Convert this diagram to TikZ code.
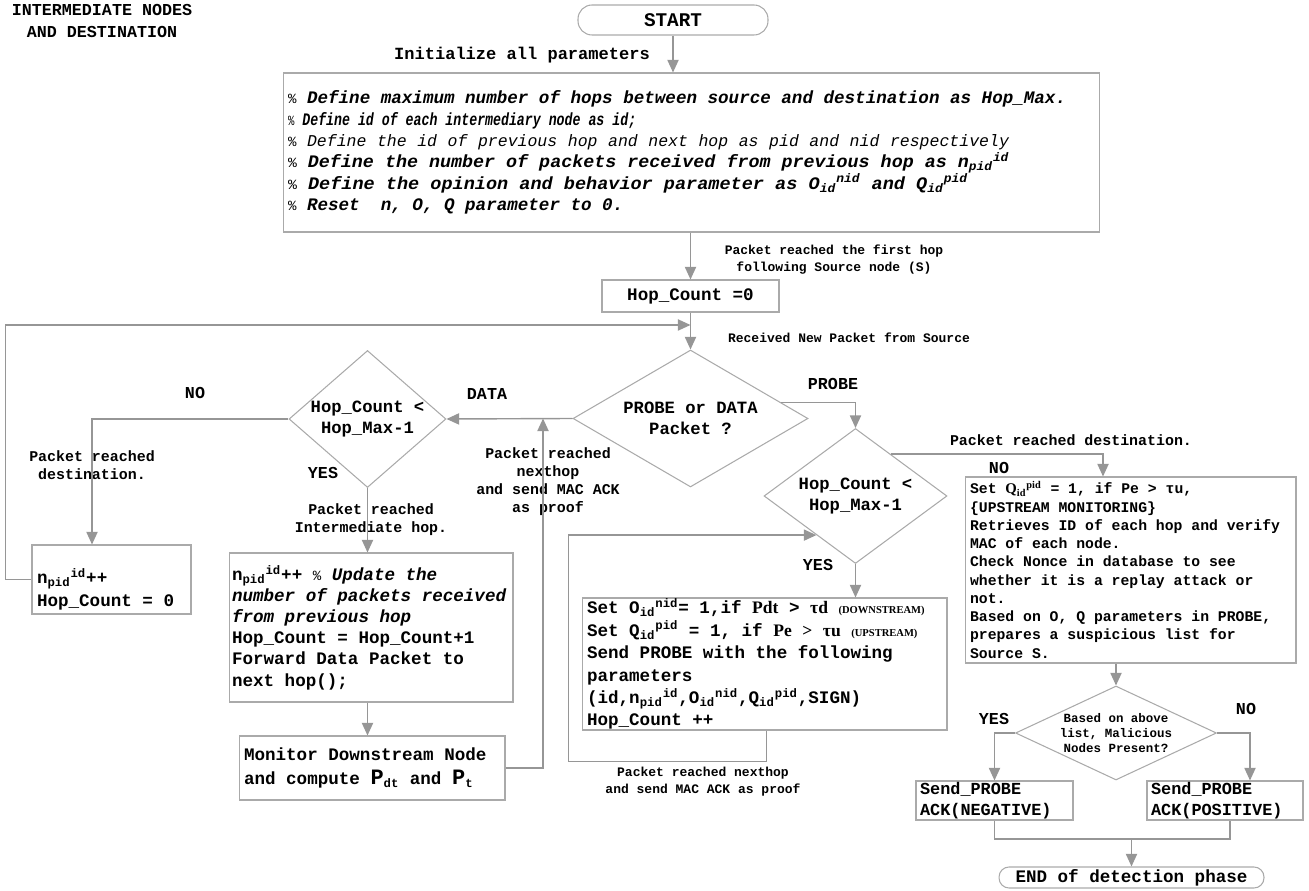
\documentclass[tikz,border=0pt]{standalone}
\usepackage{fontspec}
\usepackage{graphicx}
\setmainfont{Liberation Mono}
\newfontfamily\timesfont{Liberation Serif}
\usetikzlibrary{shapes.geometric,arrows.meta}

\definecolor{linegray}{RGB}{150,150,150}
\definecolor{boxgray}{RGB}{170,170,170}

\newcommand{\subsup}[3]{#1\textsubscript{#2}\textsuperscript{#3}}
\newcommand{\pcsign}{{\mdseries\upshape\fontsize{8}{8}\selectfont\%}}
\newcommand{\minorcaps}[1]{{\timesfont\fontsize{6}{6}\selectfont(#1)}}
\newcommand{\widthfit}[2]{\scalebox{#1}[1]{#2}}

\tikzset{
  flow/.style={draw=linegray, line width=0.8pt, -{Triangle[length=7.2pt,width=6.4pt]}},
  link/.style={draw=linegray, line width=0.8pt},
  procbox/.style={draw=boxgray, line width=0.6pt, rectangle, align=left,
    inner xsep=0.1cm, inner ysep=0pt, font=\fontsize{10}{12}\selectfont\bfseries,
    execute at begin node={\spaceskip=0.6em\xspaceskip=0.6em\relax}},
  decision/.style={draw=boxgray, line width=0.6pt, diamond, align=center,
    inner sep=0pt, font=\fontsize{9.8}{12}\selectfont\bfseries},
  terminal/.style={draw=boxgray, line width=0.6pt, rectangle, rounded corners=0.28cm,
    inner sep=0pt, font=\fontsize{10}{12}\selectfont\bfseries},
  note/.style={align=center, inner sep=0pt, font=\fontsize{8.5}{10.3}\selectfont\bfseries},
  smallnote/.style={align=center, inner sep=0pt, font=\fontsize{7.4}{9.8}\selectfont\bfseries},
  answer/.style={inner sep=0pt, font=\fontsize{9.5}{11}\selectfont\bfseries},
}

\begin{document}
\begin{tikzpicture}[x=0.02cm, y=-0.02cm]
  \useasboundingbox (0,0) rectangle (1309,891);

  \node[answer, align=center, font=\fontsize{9.5}{12}\selectfont\bfseries] (title) at (102,21) {INTERMEDIATE NODES\\AND DESTINATION};
  \node[terminal, minimum width=3.8cm, minimum height=0.6cm, font=\fontsize{11}{13}\selectfont\bfseries] (start) at (673,20) {START};

  \node[procbox, minimum width=16.34cm, minimum height=3.18cm, text width=16.14cm,
    font=\fontsize{10}{12.2}\selectfont\bfseries\itshape] (init) at (691.5,152.5) {\pcsign{} Define maximum number of hops between source and destination as Hop\_Max.\\
    \widthfit{0.754}{\pcsign{} Define id of each intermediary node as id;}\\
    {\mdseries\fontsize{9.4}{12.2}\selectfont\pcsign{} Define the id of previous hop and next hop as pid and nid respectively}\\
    \widthfit{1.045}{\pcsign{} Define the number of packets received from previous hop as \subsup{n}{pid}{id}}\\
    \widthfit{1.055}{\pcsign{} Define the opinion and behavior parameter as \subsup{O}{id}{nid} and \subsup{Q}{id}{pid}}\\
    \pcsign{} Reset~~n, O, Q parameter to 0.};

  \node[procbox, align=center, minimum width=3.54cm, minimum height=0.64cm] (hop0) at (690.5,296) {Hop\_Count =0};

  \node[decision, aspect=1.715, minimum width=4.7cm, minimum height=2.74cm] (pd) at (690.5,418.5) {PROBE or DATA\\Packet ?};
  \node[decision, aspect=1.146, minimum width=3.14cm, minimum height=2.74cm] (hc1) at (367.5,419) {Hop\_Count <\\Hop\_Max-1};
  \node[decision, aspect=1.356, minimum width=3.66cm, minimum height=2.7cm] (hc2) at (855.5,496) {Hop\_Count <\\Hop\_Max-1};

  \node[procbox, minimum width=3.14cm, minimum height=1.38cm, text width=2.98cm,
    font=\fontsize{10}{13}\selectfont\bfseries] (nbox) at (111.5,579.5) {\rule{0pt}{20pt}\subsup{n}{pid}{id}++\\Hop\_Count = 0};

  \node[procbox, minimum width=5.68cm, minimum height=2.98cm, text width=5.56cm, inner xsep=0.06cm] (dbox) at (371,627.5) {\subsup{n}{pid}{id}++ \pcsign{} \textit{Update the}\\
    \textit{number of packets received}\\
    \textit{from previous hop}\\
    Hop\_Count = Hop\_Count+1\\
    Forward Data Packet to\\
    next hop();};

  \node[procbox, minimum width=5.32cm, minimum height=1.28cm, text width=5.12cm,
    font=\fontsize{10}{13.6}\selectfont\bfseries] (mon) at (372,768) {Monitor Downstream Node\\
    and compute {\fontsize{12.5}{13.6}\selectfont P}\textsubscript{dt} and {\fontsize{12.5}{13.6}\selectfont P}\textsubscript{t}};

  \node[procbox, minimum width=7.3cm, minimum height=2.64cm, text width=7.1cm,
    font=\fontsize{10}{12.75}\selectfont\bfseries] (pbox) at (764.5,664) {Set \subsup{O}{id}{nid}= 1,if {\timesfont Pdt} > {\timesfont τd} \minorcaps{DOWNSTREAM}\\
    Set \subsup{Q}{id}{pid} = 1, if {\timesfont Pe > τu} \minorcaps{UPSTREAM}\\
    Send PROBE with the following\\
    parameters\\
    (id,\subsup{n}{pid}{id},\subsup{O}{id}{nid},\subsup{Q}{id}{pid},SIGN)\\
    Hop\_Count ++};

  \node[procbox, minimum width=6.62cm, minimum height=3.72cm, text width=6.42cm,
    font=\fontsize{8.4}{10.4}\selectfont\bfseries] (dest) at (1130.5,570) {Set {\timesfont\subsup{Q}{id}{pid}} = 1, if Pe > τu,\\
    \{UPSTREAM MONITORING\}\\
    Retrieves ID of each hop and verify\\
    MAC of each node.\\
    Check Nonce in database to see\\
    whether it is a replay attack or\\
    not.\\
    Based on O, Q parameters in PROBE,\\
    prepares a suspicious list for\\
    Source S.};

  \node[decision, aspect=2.14, minimum width=4.02cm, minimum height=1.88cm,
    font=\fontsize{7.1}{8.5}\selectfont\bfseries] (d3) at (1116,733) {Based on above\\list, Malicious\\Nodes Present?};

  \node[procbox, minimum width=3.14cm, minimum height=0.78cm, text width=2.98cm, inner xsep=0.08cm,
    font=\fontsize{9.6}{12}\selectfont\bfseries] (negb) at (994.5,800.5) {Send\_PROBE\\ACK(NEGATIVE)};
  \node[procbox, minimum width=3.12cm, minimum height=0.78cm, text width=2.96cm, inner xsep=0.08cm,
    font=\fontsize{9.6}{12}\selectfont\bfseries] (posb) at (1225,800.5) {Send\_PROBE\\ACK(POSITIVE)};

  \node[terminal, minimum width=5.3cm, minimum height=0.42cm, rounded corners=0.2cm] (endn) at (1131.5,877.5) {END of detection phase};

  \node[answer, font=\fontsize{9.7}{11}\selectfont\bfseries] (initlbl) at (522,55) {Initialize all parameters};
  \node[smallnote] (firsthop) at (834,259.5) {Packet reached the first hop\\following Source node (S)};
  \node[smallnote] (newpkt) at (849,338) {Received New Packet from Source};
  \node[answer] (datatag) at (487,394) {DATA};
  \node[answer] (probetag) at (833,384) {PROBE};
  \node[answer] (notag1) at (195,393) {NO};
  \node[answer] (yestag1) at (323,473) {YES};
  \node[answer] (yestag2) at (818,565) {YES};
  \node[answer] (notag2) at (999,468) {NO};
  \node[answer] (yestag3) at (994,719) {YES};
  \node[answer] (notag3) at (1246,709) {NO};
  \node[note] (destlbl1) at (92,465) {Packet reached\\destination.};
  \node[note] (interlbl) at (371,520) {Packet reached\\Intermediate hop.};
  \node[note] (acklbl1) at (548,481.5) {Packet reached\\nexthop\\and send MAC ACK\\as proof};
  \node[note] (destlbl2) at (1071,440) {Packet reached destination.};
  \node[smallnote] (acklbl2) at (703,782) {Packet reached nexthop\\and send MAC ACK as proof};

  \coordinate (join) at (690.5,325);
  \coordinate (datajoin) at (543,418.5);
  \coordinate (mrg) at (1131.5,839);

  \draw[flow] (start.south) -- (start.south |- init.north);
  \draw[flow] (hop0.north |- init.south) -- (hop0.north);
  \draw[flow] (hop0.south) -- (pd.north);
  \draw[flow] (nbox.west) -- ++(-26,0) |- (join);
  \draw[flow] (pd.west) -- (hc1.east);
  \draw[flow] (pd.10) -| (hc2.north);
  \draw[flow] (hc1.west) -| ([xshift=-0.39cm]nbox.north);
  \draw[flow] (hc1.south) -- (hc1.south |- dbox.north);
  \draw[flow] (hc1.south |- dbox.south) -- (hc1.south |- mon.north);
  \draw[flow] (mon.east) -| (datajoin);
  \draw[flow] (hc2.south) -- (hc2.south |- pbox.north);
  \draw[flow] ([xshift=3.7cm]pbox.south west) -- ++(0,31) -| ([xshift=-0.26cm]pbox.west) |- (hc2.225);
  \draw[flow] (hc2.50) -| ([xshift=-0.55cm]dest.north);
  \draw[flow] (d3.north |- dest.south) -- (d3.north);
  \draw[flow] (d3.west) -| (negb.north);
  \draw[flow] (d3.east) -| ([xshift=0.5cm]posb.north);
  \draw[link] (negb.south) |- (mrg) -| ([xshift=0.1cm]posb.south);
  \draw[flow] (mrg) -- (endn.north);
\end{tikzpicture}
\end{document}
